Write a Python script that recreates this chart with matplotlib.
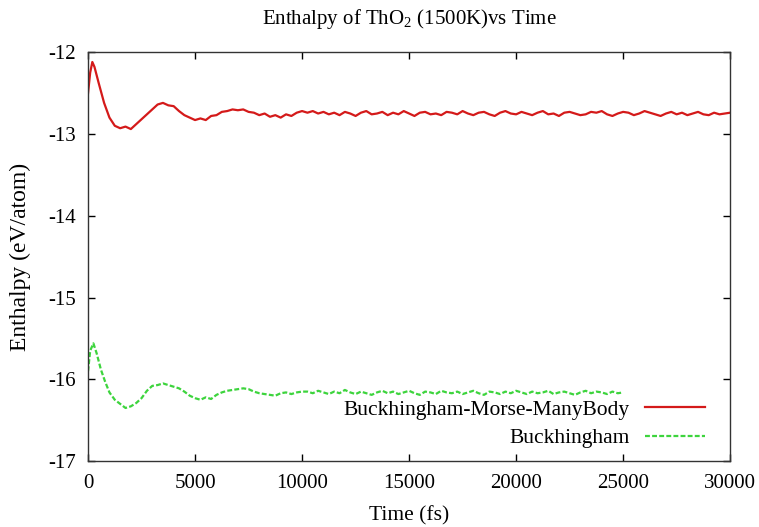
import numpy as np
import matplotlib
matplotlib.use('Agg')
import matplotlib.pyplot as plt

plt.rcParams['font.family'] = ['Liberation Serif', 'DejaVu Serif']
plt.rcParams['mathtext.fontset'] = 'custom'
plt.rcParams['mathtext.rm'] = 'Liberation Serif'
plt.rcParams['axes.unicode_minus'] = False

# Buckingham-Morse-ManyBody run (fs, eV/atom)
bmm_time_early = [0, 100, 200, 300, 500, 750, 1000, 1250, 1500, 1750, 2000, 2250,
                  2500, 2750, 3000, 3250, 3500, 3750, 4000, 4250, 4500, 4750, 5000,
                  5250, 5500, 5750, 6000, 6250, 6500, 6750, 7000, 7250, 7500, 7750,
                  8000, 8250, 8500, 8750, 9000, 9250, 9500, 9750, 10000]
bmm_enth_early = [-12.50, -12.25, -12.12, -12.18, -12.38, -12.62, -12.80, -12.90,
                  -12.93, -12.91, -12.94, -12.88, -12.82, -12.76, -12.70, -12.64,
                  -12.62, -12.65, -12.66, -12.72, -12.77, -12.80, -12.83, -12.81,
                  -12.83, -12.78, -12.77, -12.73, -12.72, -12.70, -12.71, -12.70,
                  -12.73, -12.74, -12.77, -12.75, -12.79, -12.77, -12.80, -12.76,
                  -12.78, -12.74, -12.72]
bmm_time_tail = np.arange(10250, 30001, 250)
bmm_enth_tail = [
    -12.74, -12.72, -12.75, -12.73, -12.76, -12.74, -12.77, -12.73, -12.75, -12.78,
    -12.74, -12.72, -12.76, -12.75, -12.73, -12.77, -12.74, -12.76, -12.72, -12.75,
    -12.78, -12.74, -12.73, -12.76, -12.75, -12.77, -12.73, -12.74, -12.76, -12.72,
    -12.75, -12.77, -12.74, -12.73, -12.76, -12.78, -12.74, -12.72, -12.75, -12.76,
    -12.73, -12.75, -12.77, -12.74, -12.72, -12.76, -12.75, -12.78, -12.74, -12.73,
    -12.75, -12.77, -12.76, -12.73, -12.74, -12.72, -12.76, -12.78, -12.75, -12.73,
    -12.74, -12.77, -12.75, -12.72, -12.74, -12.76, -12.78, -12.75, -12.73, -12.76,
    -12.74, -12.77, -12.75, -12.73, -12.76, -12.77, -12.74, -12.76, -12.75, -12.74]

# Buckingham-only run (fs, eV/atom)
buck_time_early = [0, 100, 250, 400, 600, 800, 1000, 1250, 1500, 1750, 2000, 2250,
                   2500, 2750, 3000, 3250, 3500, 3750, 4000, 4250, 4500, 4750, 5000,
                   5250, 5500, 5750, 6000, 6250, 6500, 6750, 7000, 7250, 7500, 7750,
                   8000, 8250, 8500, 8750, 9000, 9250, 9500, 9750, 10000]
buck_enth_early = [-15.90, -15.65, -15.56, -15.68, -15.88, -16.03, -16.16, -16.25,
                   -16.30, -16.35, -16.33, -16.29, -16.23, -16.14, -16.08, -16.07,
                   -16.05, -16.07, -16.09, -16.11, -16.15, -16.20, -16.23, -16.25,
                   -16.22, -16.24, -16.19, -16.16, -16.14, -16.13, -16.12, -16.11,
                   -16.12, -16.15, -16.17, -16.18, -16.19, -16.20, -16.17, -16.16,
                   -16.18, -16.16, -16.15]
buck_time_tail = np.arange(10250, 25001, 250)
buck_enth_tail = [
    -16.15, -16.17, -16.14, -16.16, -16.18, -16.15, -16.17, -16.13, -16.16, -16.18,
    -16.15, -16.17, -16.19, -16.16, -16.14, -16.17, -16.15, -16.18, -16.16, -16.14,
    -16.17, -16.19, -16.15, -16.16, -16.18, -16.14, -16.16, -16.17, -16.15, -16.18,
    -16.16, -16.14, -16.17, -16.19, -16.15, -16.16, -16.18, -16.15, -16.17, -16.14,
    -16.16, -16.18, -16.15, -16.17, -16.16, -16.14, -16.18, -16.16, -16.15, -16.17,
    -16.19, -16.16, -16.14, -16.17, -16.15, -16.16, -16.18, -16.15, -16.17, -16.16]

x_ticks = [0, 5000, 10000, 15000, 20000, 25000, 30000]
y_ticks = [-17, -16, -15, -14, -13, -12]

bmm_time = np.concatenate([bmm_time_early, bmm_time_tail])
bmm_enth = np.concatenate([bmm_enth_early, bmm_enth_tail])
buck_time = np.concatenate([buck_time_early, buck_time_tail])
buck_enth = np.concatenate([buck_enth_early, buck_enth_tail])

fig = plt.figure(figsize=(7.59, 5.27), dpi=100)
ax = fig.add_axes([0.116, 0.125, 0.846, 0.776])

ax.plot(bmm_time, bmm_enth, color='#d41a1a', lw=1.6,
        label='Buckhingham-Morse-ManyBody')
ax.plot(buck_time, buck_enth, color='#3dd43d', lw=1.6, dashes=(2.2, 1.0),
        label='Buckhingham')

ax.set_xlim(0, 30000)
ax.set_ylim(-17, -12)
ax.set_xticks(x_ticks)
ax.set_yticks(y_ticks)
ax.tick_params(direction='in', length=5, width=1, labelsize=15,
               top=True, right=True)
ax.tick_params(axis='x', pad=9)
ax.tick_params(axis='y', pad=9)
for s in ax.spines.values():
    s.set_linewidth(1)
    s.set_color('#333333')

ax.set_title('Enthalpy of ThO$_2$ (1500K)vs Time', fontsize=15, pad=20)
ax.set_xlabel('Time (fs)', fontsize=15.5, labelpad=10)
ax.set_ylabel('Enthalpy (eV/atom)', fontsize=17, labelpad=12)

ax.legend(loc='lower right', bbox_to_anchor=(0.9745, 0.01), frameon=False,
          markerfirst=False, fontsize=15.5, handlelength=2.8, handletextpad=0.7,
          labelspacing=0.4, borderaxespad=0)

fig.savefig('out.png', dpi=100)
